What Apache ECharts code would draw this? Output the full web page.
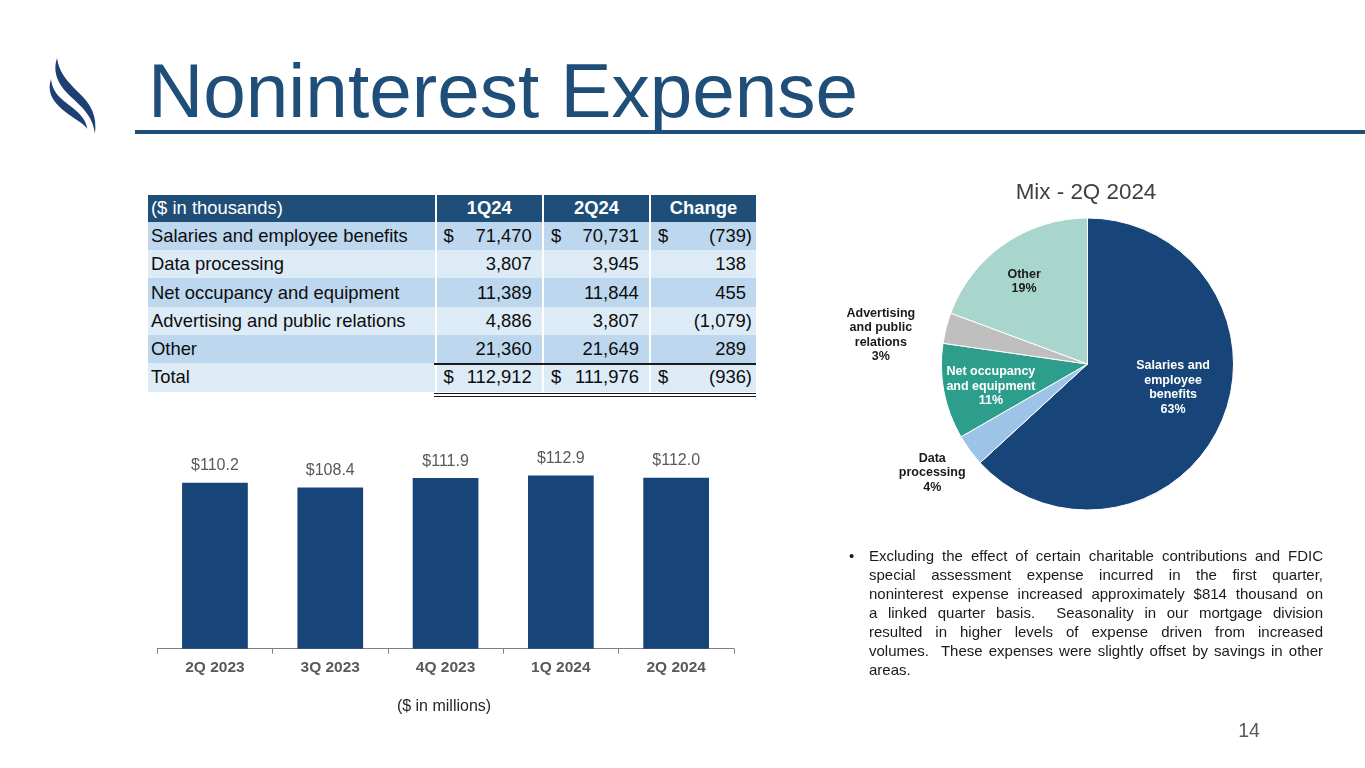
<!DOCTYPE html>
<html>
<head>
<meta charset="utf-8">
<script src="https://cdn.jsdelivr.net/npm/echarts@6/dist/echarts.min.js"></script>
<style>
  html, body { margin:0; padding:0; background:#fff; }
  body { width:1365px; height:768px; overflow:hidden; position:relative;
         font-family:'Liberation Sans', Arial, sans-serif; }
  #chart { position:absolute; left:0; top:0; width:1365px; height:768px; }
  .abs { position:absolute; }
  #title { left:148px; top:52px; font-size:76.5px; line-height:77px; color:#1F4E79; white-space:nowrap; }
  #rule { left:135px; top:130px; width:1230px; height:4px; background:#1F4E79; }
  #tbl { left:148px; top:195px; border-collapse:separate; border-spacing:0; table-layout:fixed;
         font-size:18.4px; color:#0d0d0d; }
  #tbl td { padding:0; white-space:nowrap; height:28.33px; line-height:28px; }
  #tbl tr.hdr td { height:26.7px; line-height:26px; background:#1F4E79; color:#fff; }
  #tbl td.lab { padding-left:3px; }
  #tbl td.val { border-left:2px solid #fff; padding:0 4px 0 7px; }
  #tbl tr.hdr td.val { text-align:center; font-weight:bold; padding:0; }
  .cell { display:flex; justify-content:space-between; }
  .ph { visibility:hidden; }
  #bullet { left:849px; top:546px; width:474px; font-size:15px; line-height:19px; color:#1a1a1a; }
  #bullet .dot { position:absolute; left:0; top:0; }
  #bullet .ln { margin-left:20px; white-space:pre; text-align:justify; text-align-last:justify; }
  #bullet .ln.last { text-align-last:left; }
  #pg { left:1230px; top:718px; width:38px; text-align:center; font-size:19.5px; line-height:24px; color:#595959; }
  #mill { left:344px; top:696px; width:200px; text-align:center; font-size:16px; line-height:20px; color:#262626; }
  .hl { position:absolute; background:#1a1a1a; }
</style>
</head>
<body>
<div id="chart"></div>

<svg class="abs" style="left:40px;top:50px" width="70" height="95" viewBox="40 50 70 95">
  <path d="M57,58 C53,70 56,82 68,94 C82,107 93,116 95,134 C97,116 92,105 78,92 C66,80 59,72 57,58 Z" fill="#1F3F74"/>
  <path d="M51,79 C47,91 52,101 63,110 C74,119 84,123 87,129 C87,121 80,113 69,105 C58,97 52,90 51,79 Z" fill="#1F3F74"/>
</svg>

<div id="title" class="abs">Noninterest Expense</div>
<div id="rule" class="abs"></div>

<table id="tbl" class="abs"></table>
<div class="hl" style="left:434px;top:363px;width:322px;height:1.5px"></div>
<div class="hl" style="left:434px;top:392.5px;width:322px;height:1px"></div>
<div class="hl" style="left:434px;top:395.5px;width:322px;height:1px"></div>

<div id="bullet" class="abs"></div>
<div id="mill" class="abs">($ in millions)</div>
<div id="pg" class="abs">14</div>

<script>
// ---------------- DATA ----------------
const categories = ['2Q 2023', '3Q 2023', '4Q 2023', '1Q 2024', '2Q 2024'];
const expenseMillions = [110.2, 108.4, 111.9, 112.9, 112.0];

const tableHeader = ['($ in thousands)', '1Q24', '2Q24', 'Change'];
const expenseItems = ['Salaries and employee benefits', 'Data processing', 'Net occupancy and equipment',
                      'Advertising and public relations', 'Other'];
const q1Values = [71470, 3807, 11389, 4886, 21360];
const q2Values = [70731, 3945, 11844, 3807, 21649];
const changeValues = [-739, 138, 455, -1079, 289];
const totalLabel = 'Total';

const pieTitle = 'Mix - 2Q 2024';
const pieLabels = ['Salaries and\nemployee\nbenefits', 'Data\nprocessing', 'Net occupancy\nand equipment',
                   'Advertising\nand public\nrelations', 'Other'];

const bulletLines = [
  'Excluding the effect of certain charitable contributions and FDIC',
  'special assessment expense incurred in the first quarter,',
  'noninterest expense increased approximately $814 thousand on',
  'a linked quarter basis.  Seasonality in our mortgage division',
  'resulted in higher levels of expense driven from increased',
  'volumes.  These expenses were slightly offset by savings in other',
  'areas.'
];

// ---------------- TABLE ----------------
const sum = a => a.reduce((s, v) => s + v, 0);
const totals = [sum(q1Values), sum(q2Values), sum(changeValues)];
function fmt(v) {
  const s = Math.abs(v).toLocaleString('en-US');
  return v < 0 ? '(' + s + ')' : s + '<span class="ph">)</span>';
}
function valCell(v, dollar) {
  return '<td class="val"><div class="cell"><span>' + (dollar ? '$' : '') + '</span><span>' + fmt(v) + '</span></div></td>';
}
const rowBg = ['#BDD7EE', '#DDEBF7'];
let html = '<colgroup><col style="width:286.6px"><col style="width:107.3px"><col style="width:107.1px"><col style="width:107px"></colgroup>';
html += '<tr class="hdr"><td class="lab">' + tableHeader[0] + '</td>' +
        tableHeader.slice(1).map(h => '<td class="val">' + h + '</td>').join('') + '</tr>';
expenseItems.forEach((name, i) => {
  const d = i === 0;
  html += '<tr style="background:' + rowBg[i % 2] + '"><td class="lab">' + name + '</td>' +
          valCell(q1Values[i], d) + valCell(q2Values[i], d) + valCell(changeValues[i], d) + '</tr>';
});
html += '<tr style="background:' + rowBg[expenseItems.length % 2] + '"><td class="lab">' + totalLabel + '</td>' +
        valCell(totals[0], true) + valCell(totals[1], true) + valCell(totals[2], true) + '</tr>';
document.getElementById('tbl').innerHTML = html;

// ---------------- BULLET ----------------
document.getElementById('bullet').innerHTML = '<span class="dot">•</span>' +
  bulletLines.map((l, i) => '<div class="ln' + (i === bulletLines.length - 1 ? ' last' : '') + '">' + l + '</div>').join('');

// ---------------- CHART ----------------
const FONT = "'Liberation Sans', Arial, sans-serif";
const pieColors = ['#17457A', '#9DC3E6', '#2E9E8C', '#BFBFBF', '#A9D6CC'];
const pieLabelColors = ['#ffffff', '#1a1a1a', '#ffffff', '#1a1a1a', '#1a1a1a'];
const pieLabelNudge = [[16, -7], [-94, 64], [-22, 8], [-133, -10], [-20, -20]];

const chart = echarts.init(document.getElementById('chart'), null, { renderer: 'canvas' });
chart.setOption({
  animation: false,
  textStyle: { fontFamily: FONT },
  graphic: [{
    type: 'text', x: 1086, y: 193,
    style: { text: pieTitle, fontSize: 22.4, fill: '#404040', fontFamily: FONT, align: 'center', verticalAlign: 'middle' }
  }],
  grid: { left: 157.3, top: 456.5, width: 576.5, height: 192.2 },
  xAxis: {
    type: 'category', data: categories,
    axisLine: { lineStyle: { color: '#7f7f7f', width: 1 } },
    axisTick: { show: true, length: 5, alignWithLabel: false, lineStyle: { color: '#7f7f7f' } },
    axisLabel: { color: '#595959', fontWeight: 'bold', fontSize: 15.5, margin: 11, fontFamily: FONT }
  },
  yAxis: { type: 'value', min: 48, max: 120, show: false },
  series: [
    {
      type: 'bar', data: expenseMillions, barCategoryGap: '43%',
      itemStyle: { color: '#17457A' },
      label: { show: true, position: 'top', distance: 9, fontSize: 16, color: '#595959', fontFamily: FONT,
               formatter: p => '$' + p.value.toFixed(1) }
    },
    {
      type: 'pie', center: [1087.5, 364], radius: 146, startAngle: 90, clockwise: true,
      percentPrecision: 0, avoidLabelOverlap: false,
      itemStyle: { borderColor: '#ffffff', borderWidth: 1 },
      labelLine: { show: false },
      data: q2Values.map((v, i) => ({
        value: v, name: expenseItems[i],
        itemStyle: { color: pieColors[i] },
        label: { color: pieLabelColors[i] }
      })),
      label: {
        show: true, position: 'inside', fontSize: 12.5, fontWeight: 'bold', lineHeight: 14.5,
        fontFamily: FONT, align: 'center',
        formatter: p => pieLabels[p.dataIndex] + '\n' + p.percent + '%'
      },
      labelLayout: p => ({ dx: pieLabelNudge[p.dataIndex][0], dy: pieLabelNudge[p.dataIndex][1] })
    }
  ]
});
</script>
</body>
</html>
